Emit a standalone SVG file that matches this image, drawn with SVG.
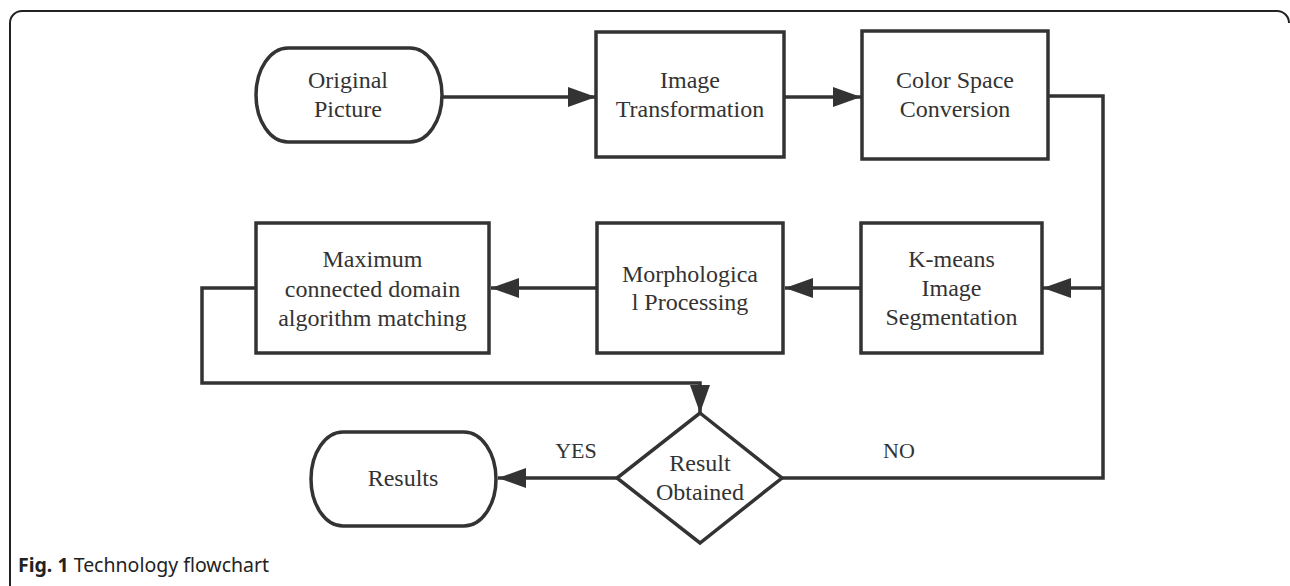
<svg xmlns="http://www.w3.org/2000/svg" width="1290" height="586" viewBox="0 0 1290 586">
<style>
.shape{fill:#fff;stroke:#333;stroke-width:3.5}
.conn{fill:none;stroke:#333;stroke-width:3.5}
.t{font-family:"Liberation Serif","Times New Roman",serif;font-size:24px;fill:#333;text-anchor:middle}
.lbl{font-family:"Liberation Serif","Times New Roman",serif;font-size:22px;fill:#333;text-anchor:middle}
.cap{font-family:"Noto Sans","Open Sans",sans-serif;font-size:19.5px;fill:#222}
</style>
<defs>
<marker id="arr" markerUnits="userSpaceOnUse" markerWidth="30" markerHeight="22" refX="28" refY="10" orient="auto">
<path d="M0,0 L28,10 L0,20 Z" fill="#333"/>
</marker>
</defs>
<rect width="1290" height="586" fill="#fff"/>
<path d="M10,586 V23 A12,12 0 0 1 22,11 H1277 A12,12 0 0 1 1289,23" fill="none" stroke="#222" stroke-width="2"/>

<g id="connectors">
<path class="conn" d="M442,97 H596" marker-end="url(#arr)"/>
<path class="conn" d="M784,97 H861" marker-end="url(#arr)"/>
<path class="conn" d="M1047,96 H1103 V478 H782"/>
<path class="conn" d="M1103,288 H1043" marker-end="url(#arr)"/>
<path class="conn" d="M861,288 H785" marker-end="url(#arr)"/>
<path class="conn" d="M597,288 H491" marker-end="url(#arr)"/>
<path class="conn" d="M256,288 H202 V383 H700 V413" marker-end="url(#arr)"/>
<path class="conn" d="M617,478 H498" marker-end="url(#arr)"/>
<text class="lbl" x="576" y="458">YES</text>
<text class="lbl" x="899" y="458">NO</text>
</g>

<g id="original-picture">
<rect class="shape" x="256" y="48" width="186" height="94" rx="32" ry="47"/>
<text class="t" x="348" y="88">Original</text>
<text class="t" x="348" y="117">Picture</text>
</g>

<g id="image-transformation">
<rect class="shape" x="596" y="32" width="188" height="125"/>
<text class="t" x="690" y="88">Image</text>
<text class="t" x="690" y="117">Transformation</text>
</g>

<g id="color-space-conversion">
<rect class="shape" x="862" y="31" width="186" height="128"/>
<text class="t" x="955" y="88">Color Space</text>
<text class="t" x="955" y="117">Conversion</text>
</g>

<g id="kmeans">
<rect class="shape" x="861" y="223" width="181" height="130"/>
<text class="t" x="951.5" y="267">K-means</text>
<text class="t" x="951.5" y="296">Image</text>
<text class="t" x="951.5" y="325">Segmentation</text>
</g>

<g id="morphological">
<rect class="shape" x="597" y="223" width="186" height="130"/>
<text class="t" x="690" y="282">Morphologica</text>
<text class="t" x="690" y="310">l Processing</text>
</g>

<g id="maximum">
<rect class="shape" x="256" y="223" width="233" height="130"/>
<text class="t" x="372.5" y="267">Maximum</text>
<text class="t" x="372.5" y="297">connected domain</text>
<text class="t" x="372.5" y="326">algorithm matching</text>
</g>

<g id="result-obtained">
<polygon class="shape" points="700,413 782,478 700,543 617,478"/>
<text class="t" x="700" y="471">Result</text>
<text class="t" x="700" y="500">Obtained</text>
</g>

<g id="results">
<rect class="shape" x="311" y="432" width="185" height="94" rx="32" ry="47"/>
<text class="t" x="403" y="486">Results</text>
</g>

<text class="cap" x="18" y="572"><tspan font-weight="bold">Fig. 1</tspan> Technology flowchart</text>
</svg>
